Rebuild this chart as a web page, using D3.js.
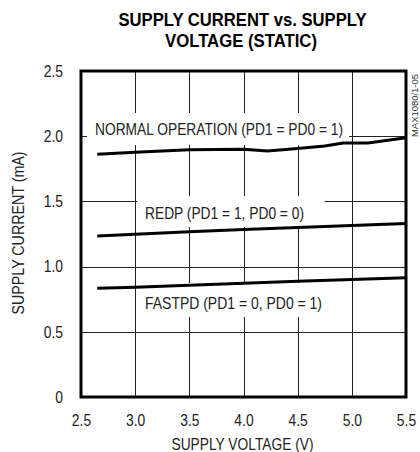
<!DOCTYPE html>
<html>
<head>
<meta charset="utf-8">
<script src="https://cdn.jsdelivr.net/npm/d3@7"></script>
<style>
  html, body { margin: 0; padding: 0; background: #fff; }
  svg { display: block; }
  text { font-family: "Liberation Sans Narrow", "Arial Narrow", "Liberation Sans", sans-serif; fill: #222; }
</style>
</head>
<body>
<div id="chart"></div>
<script>
// Supply current vs supply voltage (static)
const xTicks = [2.5, 3.0, 3.5, 4.0, 4.5, 5.0, 5.5];
const yTicks = [0, 0.5, 1.0, 1.5, 2.0, 2.5];

const normalV = [2.65, 3.0, 3.5, 4.0, 4.22, 4.5, 4.75, 4.92, 5.15, 5.5];
const normalI = [1.862, 1.876, 1.896, 1.90, 1.886, 1.905, 1.925, 1.948, 1.948, 1.988];

const redpV = [2.65, 3.0, 3.5, 4.0, 4.5, 5.0, 5.5];
const redpI = [1.235, 1.248, 1.268, 1.284, 1.300, 1.315, 1.330];

const fastV = [2.65, 3.0, 3.5, 4.0, 4.5, 5.0, 5.5];
const fastI = [0.834, 0.841, 0.857, 0.872, 0.888, 0.902, 0.915];

const titleLines = ['SUPPLY CURRENT vs. SUPPLY', 'VOLTAGE (STATIC)'];
const labels = ['NORMAL OPERATION (PD1 = PD0 = 1)', 'REDP (PD1 = 1, PD0 = 0)', 'FASTPD (PD1 = 0, PD0 = 1)'];

(function () {
  const W = 420, H = 452;
  const L = 81, R = 406, T = 71, B = 397;

  const svg = d3.select('#chart').append('svg').attr('width', W).attr('height', H);

  const x = d3.scaleLinear().domain([2.5, 5.5]).range([L, R]);
  const y = d3.scaleLinear().domain([0, 2.5]).range([B, T]);

  // title
  svg.append('text').attr('x', 242.5).attr('y', 26).attr('text-anchor', 'middle')
    .style('font-family', '"Liberation Sans", Arial, sans-serif').style('fill', '#000')
    .attr('font-weight', 'bold').attr('font-size', 17.5)
    .attr('textLength', 248).attr('lengthAdjust', 'spacingAndGlyphs')
    .text(titleLines[0]);
  svg.append('text').attr('x', 241).attr('y', 47).attr('text-anchor', 'middle')
    .style('font-family', '"Liberation Sans", Arial, sans-serif').style('fill', '#000')
    .attr('font-weight', 'bold').attr('font-size', 17.5)
    .attr('textLength', 152).attr('lengthAdjust', 'spacingAndGlyphs')
    .text(titleLines[1]);

  // grid
  const grid = svg.append('g').attr('stroke', '#222').attr('stroke-width', 1);
  xTicks.slice(1, -1).forEach(v => {
    const px = Math.round(x(v)) + 0.5;
    grid.append('line').attr('x1', px).attr('x2', px).attr('y1', T).attr('y2', B);
  });
  yTicks.slice(1, -1).forEach(v => {
    const py = Math.round(y(v)) + 0.5;
    grid.append('line').attr('x1', L).attr('x2', R).attr('y1', py).attr('y2', py);
  });

  // white boxes behind the curve labels
  const masks = svg.append('g').attr('fill', '#fff');
  masks.append('rect').attr('x', 87).attr('y', 113).attr('width', 262).attr('height', 32);
  masks.append('rect').attr('x', 137.5).attr('y', 196).attr('width', 187).attr('height', 31);
  masks.append('rect').attr('x', 140).attr('y', 283).attr('width', 183).attr('height', 34);
  // piece of the 2.0 grid line right of the label
  svg.append('line').attr('x1', 349).attr('x2', R)
    .attr('y1', Math.round(y(2.0)) + 0.5).attr('y2', Math.round(y(2.0)) + 0.5)
    .attr('stroke', '#222').attr('stroke-width', 1);

  // labels
  const lab = svg.append('g').attr('font-size', 16.5);
  lab.append('text').attr('x', 95).attr('y', 135)
    .attr('textLength', 248).attr('lengthAdjust', 'spacingAndGlyphs').text(labels[0]);
  lab.append('text').attr('x', 145).attr('y', 218.5)
    .attr('textLength', 159).attr('lengthAdjust', 'spacingAndGlyphs').text(labels[1]);
  lab.append('text').attr('x', 145).attr('y', 308.5)
    .attr('textLength', 177).attr('lengthAdjust', 'spacingAndGlyphs').text(labels[2]);

  // curves
  const line = d3.line().x(d => x(d[0])).y(d => y(d[1]));
  const series = [
    d3.zip(normalV, normalI),
    d3.zip(redpV, redpI),
    d3.zip(fastV, fastI)
  ];
  svg.append('g').selectAll('path').data(series).join('path')
    .attr('d', line)
    .attr('fill', 'none').attr('stroke', '#000').attr('stroke-width', 3);

  // frame
  svg.append('rect').attr('x', L).attr('y', T).attr('width', R - L).attr('height', B - T)
    .attr('fill', 'none').attr('stroke', '#000').attr('stroke-width', 3);

  // axes (labels only)
  const fmt = v => v === 0 ? '0' : d3.format('.1f')(v);
  const ax = svg.append('g').attr('transform', `translate(0,${B})`)
    .call(d3.axisBottom(x).tickValues(xTicks).tickFormat(d3.format('.1f')).tickSize(0).tickPadding(17));
  const ay = svg.append('g').attr('transform', `translate(${L},0)`)
    .call(d3.axisLeft(y).tickValues(yTicks).tickFormat(fmt).tickSize(0).tickPadding(18));
  [ax, ay].forEach(g => {
    g.select('.domain').remove();
    g.selectAll('text').attr('font-size', 16.5).attr('fill', '#222')
      .style('font-family', '"Liberation Sans Narrow", "Arial Narrow", "Liberation Sans", sans-serif')
      .each(function () {
        // squeeze to the narrow face of the original
        const w = this.getComputedTextLength();
        d3.select(this).attr('textLength', w * 0.84).attr('lengthAdjust', 'spacingAndGlyphs');
      });
  });

  // axis titles
  svg.append('text').attr('x', 242.5).attr('y', 449.5).attr('text-anchor', 'middle')
    .attr('font-size', 16.5).attr('textLength', 142).attr('lengthAdjust', 'spacingAndGlyphs')
    .text('SUPPLY VOLTAGE (V)');
  svg.append('text').attr('transform', 'translate(24,233) rotate(-90)').attr('text-anchor', 'middle')
    .attr('font-size', 16.5).attr('textLength', 163).attr('lengthAdjust', 'spacingAndGlyphs')
    .text('SUPPLY CURRENT (mA)');

  // part number
  svg.append('text').attr('transform', 'translate(418,137) rotate(-90)')
    .attr('font-size', 8.5).style('fill', '#333')
    .attr('textLength', 63).attr('lengthAdjust', 'spacingAndGlyphs')
    .text('MAX1080/1-05');
})();
</script>
</body>
</html>
